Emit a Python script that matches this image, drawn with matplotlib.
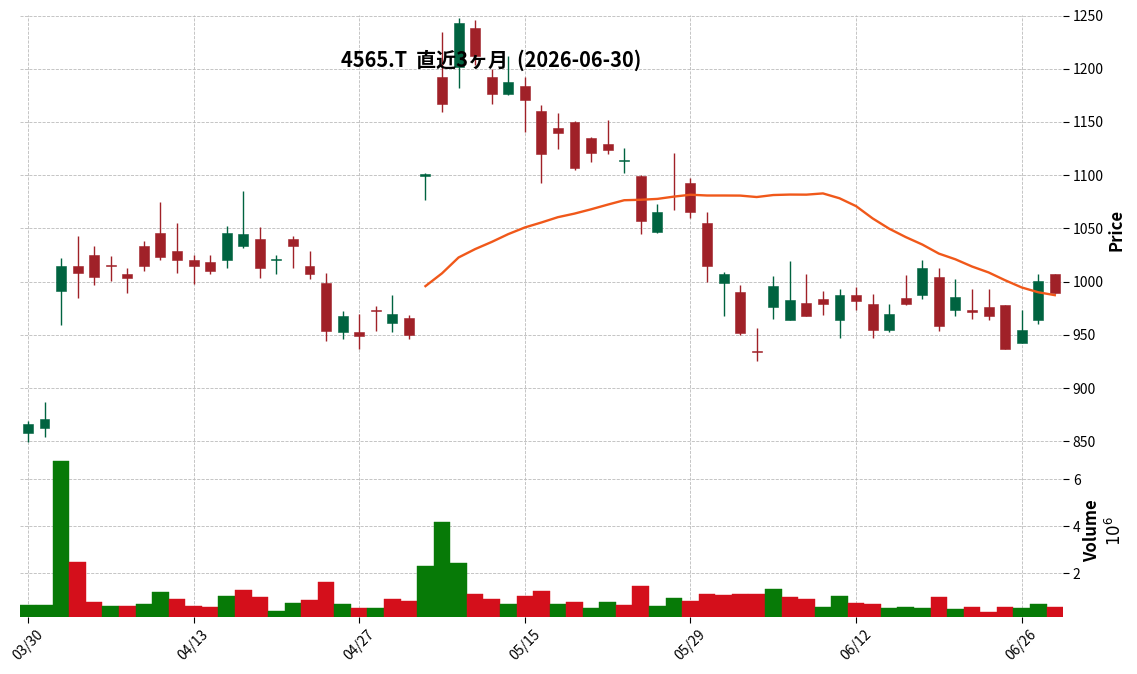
import matplotlib
matplotlib.use('Agg')
import matplotlib.pyplot as plt
import numpy as np
import pandas as pd

plt.rcParams['font.family'] = ['Noto Sans CJK JP', 'DejaVu Sans']

title = "4565.T  直近3ヶ月  (2026-06-30)"

opens = [858, 862, 991, 1015, 1025, 1016, 1007, 1033, 1046, 1029,
         1020, 1018, 1020, 1033, 1040, 1020, 1040, 1015, 999, 953,
         953, 973, 961, 966, 1099, 1192, 1202, 1238, 1192, 1176,
         1184, 1160, 1144, 1150, 1135, 1129, 1113, 1099, 1047, 1067,
         1093, 1055, 999, 990, 935, 976, 964, 980, 984, 964,
         987, 979, 955, 985, 987, 1004, 973, 973, 976, 978,
         942, 964, 1007]
highs = [869, 887, 1022, 1043, 1033, 1024, 1013, 1038, 1075, 1055,
         1025, 1025, 1052, 1085, 1051, 1025, 1043, 1029, 1008, 972,
         970, 977, 987, 969, 1102, 1235, 1248, 1246, 1200, 1212,
         1192, 1166, 1158, 1151, 1136, 1152, 1126, 1100, 1073, 1121,
         1097, 1065, 1009, 997, 956, 1005, 1019, 1007, 991, 993,
         995, 988, 979, 1006, 1020, 1013, 1002, 993, 993, 978,
         973, 1007, 1007]
lows = [849, 854, 959, 985, 997, 1001, 989, 1010, 1020, 1008,
        998, 1007, 1013, 1032, 1003, 1007, 1013, 1002, 944, 946,
        937, 954, 953, 946, 1077, 1159, 1182, 1204, 1167, 1175,
        1141, 1093, 1125, 1105, 1112, 1120, 1102, 1045, 1046, 1067,
        1060, 1000, 968, 950, 925, 965, 964, 968, 969, 947,
        973, 947, 953, 978, 984, 954, 968, 965, 964, 937,
        942, 960, 989]
closes = [866, 871, 1015, 1008, 1004, 1015, 1003, 1015, 1023, 1020,
          1015, 1010, 1046, 1045, 1013, 1021, 1033, 1007, 954, 968,
          949, 972, 970, 950, 1101, 1167, 1243, 1212, 1176, 1188,
          1171, 1120, 1140, 1107, 1121, 1124, 1114, 1057, 1065, 1067,
          1065, 1015, 1007, 952, 934, 996, 983, 968, 979, 987,
          982, 955, 970, 979, 1013, 958, 986, 971, 968, 937,
          955, 1001, 989]
volumes = [650000, 650000, 6780000, 2480000, 780000, 610000, 610000, 700000, 1210000, 910000,
           610000, 570000, 1040000, 1290000, 990000, 400000, 740000, 870000, 1630000, 700000,
           520000, 520000, 910000, 820000, 2310000, 4180000, 2440000, 1120000, 910000, 700000,
           1040000, 1250000, 700000, 780000, 520000, 780000, 650000, 1460000, 610000, 950000,
           820000, 1120000, 1080000, 1120000, 1120000, 1330000, 990000, 910000, 570000, 1040000,
           740000, 700000, 520000, 570000, 520000, 990000, 480000, 570000, 350000, 570000,
           520000, 700000, 570000]
tick_labels = ["03/30", "04/13", "04/27", "05/15", "05/29", "06/12", "06/26"]
ma_period = 25

O = np.array(opens, float)
H = np.array(highs, float)
L = np.array(lows, float)
C = np.array(closes, float)
V = np.array(volumes, float)
n = len(C)
x = np.arange(n)

up_c, dn_c = '#006340', '#a02128'
vup_c, vdn_c = '#077a07', '#d40f1b'
grid_kw = dict(color='#bcbcbc', linestyle='--', linewidth=0.6)

fig = plt.figure(figsize=(11.37, 6.74), dpi=100)
ax = fig.add_axes([0.0173, 0.3398, 0.9177, 0.6379])
axv = fig.add_axes([0.0173, 0.0852, 0.9177, 0.2546], sharex=ax)

# candles (wick colour: red unless close > open)
up = C > O
ccol = np.where(up, up_c, dn_c)
ax.vlines(x, L, H, colors=ccol, linewidth=1.0, zorder=2)
has_body = C != O
ax.bar(x[has_body], np.abs(C - O)[has_body], bottom=np.minimum(O, C)[has_body],
       width=0.6, color=ccol[has_body], edgecolor=ccol[has_body],
       linewidth=0.4, zorder=3)

ma = pd.Series(C).rolling(ma_period).mean()
ax.plot(x, ma, color='#f0581a', linewidth=1.7, zorder=4)

# volume coloured by close vs previous close
prevC = np.concatenate([[O[0]], C[:-1]])
vcol = np.where(C >= prevC, vup_c, vdn_c)
axv.bar(x, V, width=1.0, color=vcol, edgecolor=vcol, linewidth=0.3, zorder=3)

for a in (ax, axv):
    for s in a.spines.values():
        s.set_visible(False)
    a.yaxis.tick_right()
    a.yaxis.set_label_position('right')
    a.grid(True, **grid_kw)
    a.set_axisbelow(True)
    a.tick_params(axis='y', labelsize=10, length=4, width=0.8, pad=3)

ax.set_xlim(-0.5, n - 0.5)
ax.set_ylim(846.5, 1250.5)
ax.set_yticks(np.arange(850, 1251, 50))
ax.tick_params(axis='x', bottom=False, labelbottom=False)
ax.set_ylabel('Price', fontsize=12, fontweight='bold', labelpad=3)

axv.set_ylim(0.156e6, 7.46e6)
axv.set_yticks([2e6, 4e6, 6e6])
axv.set_yticklabels(['2', '4', '6'])
axv.set_ylabel('Volume\n$10^6$', fontsize=12, fontweight='bold', labelpad=2)
axv.set_xticks(np.arange(0, n, 10))
axv.set_xticklabels(tick_labels, rotation=45, fontsize=10)
axv.tick_params(axis='x', length=4, width=0.8)

fig.text(491 / 1137, 1 - 60 / 674, title, ha='center', va='center',
         fontsize=14.4, fontweight='bold')

fig.savefig('out.png', dpi=100)
